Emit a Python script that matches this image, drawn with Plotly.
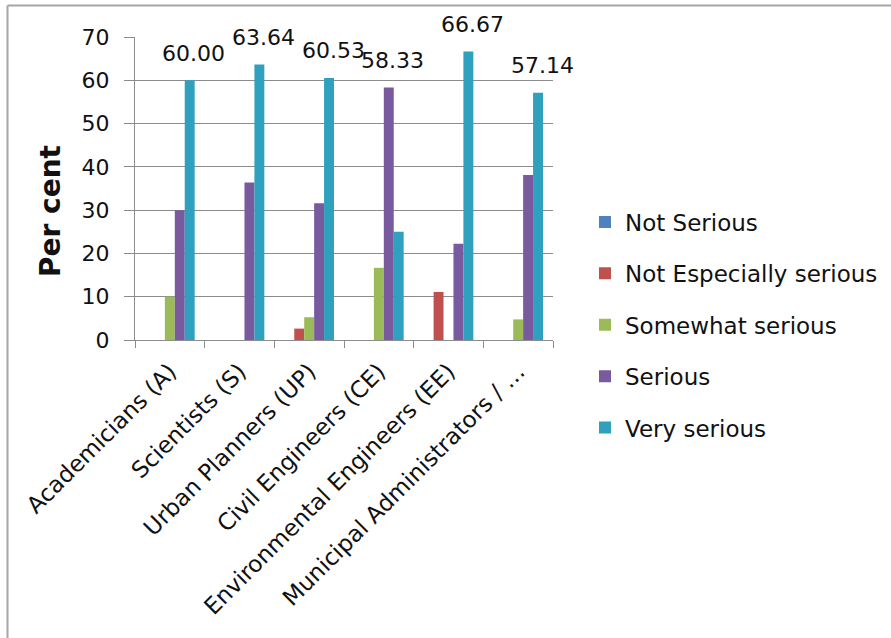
import plotly.graph_objects as go

categories = ["Academicians (A)", "Scientists (S)", "Urban Planners (UP)",
              "Civil Engineers (CE)", "Environmental Engineers (EE)",
              "Municipal Administrators / …"]
series_names = ["Not Serious", "Not Especially serious", "Somewhat serious",
                "Serious", "Very serious"]
not_serious = [0, 0, 0, 0, 0, 0]
not_especially = [0, 0, 2.63, 0, 11.11, 0]
somewhat = [10.00, 0, 5.26, 16.67, 0, 4.76]
serious = [30.00, 36.36, 31.58, 58.33, 22.22, 38.10]
very_serious = [60.00, 63.64, 60.53, 25.00, 66.67, 57.14]
y_ticks = [0, 10, 20, 30, 40, 50, 60, 70]

colors = ["#4F81BD", "#C0504D", "#9BBB59", "#7A5A9E", "#2FA0BD"]
all_series = [not_serious, not_especially, somewhat, serious, very_serious]

W, H = 891, 638
L, R, T, B = 135, 338, 37, 298
pw, ph = W - L - R, H - T - B

fig = go.Figure()
for name, vals, c in zip(series_names, all_series, colors):
    fig.add_trace(go.Bar(x=categories, y=vals, name=name, legendgroup=name,
                         marker=dict(color=c, line=dict(width=0))))

# data labels on the tallest bar of each category
bargap = 0.287
slot = pw / len(categories) * (1 - bargap) / len(all_series)
annotations = []
for i, cat in enumerate(categories):
    vals = [s[i] for s in all_series]
    k = max(range(len(vals)), key=lambda j: vals[j])
    annotations.append(dict(x=cat, y=vals[k], xref="x", yref="y",
                            text=f"{vals[k]:.2f}", showarrow=False,
                            xshift=(k - 2) * slot + 4, yshift=27,
                            font=dict(family="DejaVu Sans", size=22, color="#111111")))

# y-axis title
annotations.append(dict(x=(50 - L) / pw, y=(H - B - 211) / ph, xref="paper", yref="paper",
                        xanchor="center", yanchor="middle",
                        text="<b>Per cent</b>", textangle=-90, showarrow=False,
                        font=dict(family="DejaVu Sans", size=28, color="#111111")))

shapes = [
    dict(type="line", xref="paper", yref="paper",
         x0=(7.5 - L) / pw, x1=(W - L) / pw,
         y0=(H - B - 5.5) / ph, y1=(H - B - 5.5) / ph,
         line=dict(color="#A6A6A6", width=2)),
    dict(type="line", xref="paper", yref="paper",
         x0=(7.5 - L) / pw, x1=(7.5 - L) / pw,
         y0=(H - B - 5.5) / ph, y1=-(B + 5) / ph,
         line=dict(color="#A6A6A6", width=2)),
]

fig.update_layout(
    width=W, height=H,
    margin=dict(l=L, r=R, t=T, b=B, autoexpand=False),
    paper_bgcolor="white", plot_bgcolor="white",
    barmode="group", bargap=bargap, bargroupgap=0,
    font=dict(family="DejaVu Sans", color="#111111"),
    showlegend=True,
    legend=dict(x=(585 - L) / pw, xanchor="left", y=(H - B - 325) / ph, yanchor="middle",
                font=dict(size=23, family="DejaVu Sans"), tracegroupgap=18.5,
                traceorder="grouped", bgcolor="rgba(0,0,0,0)"),
    annotations=annotations,
    shapes=shapes,
)
fig.update_yaxes(range=[0, 70], tickvals=y_ticks, showgrid=True, gridcolor="#8C8C8C",
                 gridwidth=1, showline=True, linecolor="#8C8C8C", ticks="outside",
                 ticklen=10, tickcolor="#8C8C8C", tickfont=dict(size=22),
                 ticklabelstandoff=10, zeroline=False)
fig.update_xaxes(range=[-0.5, len(categories) - 0.5], autorange=False,
                 showline=True, linecolor="#8C8C8C", ticks="outside", ticklen=7,
                 tickcolor="#8C8C8C", tickson="boundaries", tickangle=-45,
                 tickfont=dict(size=23), ticklabelstandoff=8, showgrid=False)

fig.write_html("out.html")
